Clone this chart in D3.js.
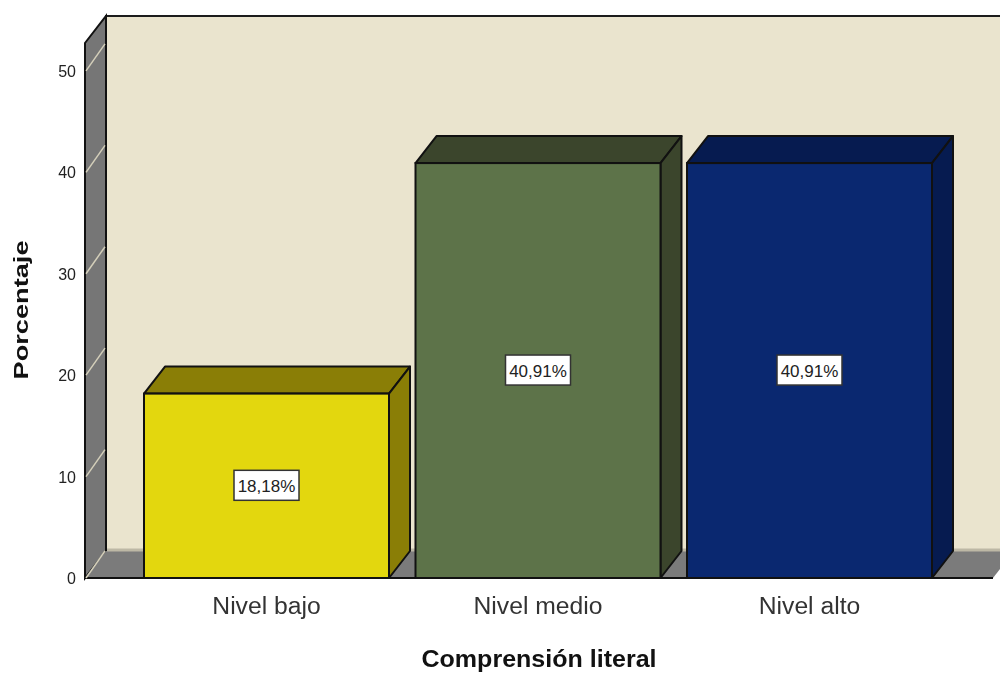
<!DOCTYPE html>
<html>
<head>
<meta charset="utf-8">
<script src="https://cdn.jsdelivr.net/npm/d3@7"></script>
<style>
html,body{margin:0;padding:0;background:#fff;overflow:hidden}
text{font-family:"Liberation Sans",Arial,sans-serif}
svg{filter:blur(0.45px)}
</style>
</head>
<body>
<div id="canvas"></div>
<script>
"use strict"

let categories=["Nivel bajo","Nivel medio","Nivel alto"]
let percentages=[18.18,40.91,40.91]
let valueLabels=["18,18%","40,91%","40,91%"]
let yTicks=[0,10,20,30,40,50]
let frontColors=["#e3d70e","#5d7349","#0a2870"]
let topColors=["#8a7e06","#3b452c","#061b50"]
let sideColors=["#8a7e06","#3b452c","#061b50"]

let svgWidth=1000
let svgHeight=673
let depthX=21
let depthY=27

let drawing=d3.select("#canvas")
    .append("svg")
    .attr("width",svgWidth)
    .attr("height",svgHeight)
    .style("display","block")

let yScale=d3.scaleLinear().domain([0,52.75]).range([578,43])
let xScale=d3.scaleBand().domain(categories).range([144,932]).paddingInner(0.0976).paddingOuter(0)

let floorY=yScale(0)
let topY=yScale.range()[1]
let left=85
let right=993

function closedPolygon(...p){
    return d3.line()(d3.range(0,p.length,2).map(i=>[p[i],p[i+1]]))+"Z"
}

// back wall
drawing.append("rect")
    .attr("x",left+depthX)
    .attr("y",topY-depthY)
    .attr("width",svgWidth)
    .attr("height",floorY-topY)
    .attr("fill","#eae4ce")
    .attr("stroke","#1c1c1c")
    .attr("stroke-width",2)

// left wall
drawing.append("path")
    .attr("d",closedPolygon(left,topY,left+depthX,topY-depthY,left+depthX,floorY-depthY,left,floorY))
    .attr("fill","#767676")
    .attr("stroke","#111")
    .attr("stroke-width",2)

// floor
drawing.append("path")
    .attr("d",closedPolygon(left,floorY,left+depthX,floorY-depthY,right+depthX,floorY-depthY,right,floorY))
    .attr("fill","#7b7b7b")
drawing.append("line")
    .attr("x1",left+depthX+1).attr("x2",svgWidth)
    .attr("y1",floorY-depthY-1).attr("y2",floorY-depthY-1)
    .attr("stroke","#bdb8a5").attr("stroke-width",3)
drawing.append("line")
    .attr("x1",left).attr("x2",right)
    .attr("y1",floorY).attr("y2",floorY)
    .attr("stroke","#111").attr("stroke-width",2)

// tick lines across the left wall
drawing.selectAll(".wallTick")
    .data(yTicks)
    .join("line")
    .attr("class","wallTick")
    .attr("x1",left+1)
    .attr("y1",d=>yScale(d))
    .attr("x2",left+depthX-1)
    .attr("y2",d=>yScale(d)-depthY)
    .attr("stroke","#d4cfba")
    .attr("stroke-width",1.5)

// bars
let bars=drawing.selectAll(".bar")
    .data(categories)
    .join("g")
    .attr("class","bar")

bars.append("path")
    .attr("d",(d,i)=>{
        let x=xScale(d),w=xScale.bandwidth(),y=yScale(percentages[i])
        return closedPolygon(x,y,x+depthX,y-depthY,x+w+depthX,y-depthY,x+w,y)
    })
    .attr("fill",(d,i)=>topColors[i])
    .attr("stroke","#111")
    .attr("stroke-width",2)
    .attr("stroke-linejoin","round")

bars.append("path")
    .attr("d",(d,i)=>{
        let x=xScale(d)+xScale.bandwidth(),y=yScale(percentages[i])
        return closedPolygon(x,y,x+depthX,y-depthY,x+depthX,floorY-depthY,x,floorY)
    })
    .attr("fill",(d,i)=>sideColors[i])
    .attr("stroke","#111")
    .attr("stroke-width",2)
    .attr("stroke-linejoin","round")

bars.append("rect")
    .attr("x",d=>xScale(d))
    .attr("y",(d,i)=>yScale(percentages[i]))
    .attr("width",xScale.bandwidth())
    .attr("height",(d,i)=>floorY-yScale(percentages[i]))
    .attr("fill",(d,i)=>frontColors[i])
    .attr("stroke","#111")
    .attr("stroke-width",2)

// value labels
bars.append("rect")
    .attr("x",d=>xScale(d)+xScale.bandwidth()/2-32.5)
    .attr("y",(d,i)=>yScale(percentages[i]/2)-15.5)
    .attr("width",65)
    .attr("height",30)
    .attr("fill","#fff")
    .attr("stroke","#333")
    .attr("stroke-width",1.5)

bars.append("text")
    .attr("x",d=>xScale(d)+xScale.bandwidth()/2)
    .attr("y",(d,i)=>yScale(percentages[i]/2)+6)
    .attr("text-anchor","middle")
    .attr("font-size",17)
    .attr("fill","#222")
    .text((d,i)=>valueLabels[i])

// axes, only the labels show
let yAxis=drawing.append("g")
    .attr("transform",`translate(${left},0.5)`)
    .call(d3.axisLeft(yScale).tickValues(yTicks).tickSize(0).tickPadding(9))
yAxis.select(".domain").remove()
yAxis.selectAll("text").attr("font-size",16).attr("fill","#222").style("font-family",'"Liberation Sans",Arial,sans-serif')

let xAxis=drawing.append("g")
    .attr("transform",`translate(0,${floorY})`)
    .call(d3.axisBottom(xScale).tickSize(0).tickPadding(18))
xAxis.select(".domain").remove()
xAxis.selectAll("text").attr("font-size",24.7).attr("fill","#333").style("font-family",'"Liberation Sans",Arial,sans-serif')

drawing.append("text")
    .attr("transform","translate(28,310) rotate(-90)")
    .attr("text-anchor","middle")
    .attr("font-size",20)
    .attr("font-weight","bold")
    .attr("fill","#111")
    .attr("textLength",139)
    .attr("lengthAdjust","spacingAndGlyphs")
    .text("Porcentaje")

drawing.append("text")
    .attr("x",539)
    .attr("y",667)
    .attr("text-anchor","middle")
    .attr("font-size",23)
    .attr("font-weight","bold")
    .attr("fill","#111")
    .attr("textLength",235)
    .attr("lengthAdjust","spacingAndGlyphs")
    .text("Comprensión literal")
</script>
</body>
</html>
